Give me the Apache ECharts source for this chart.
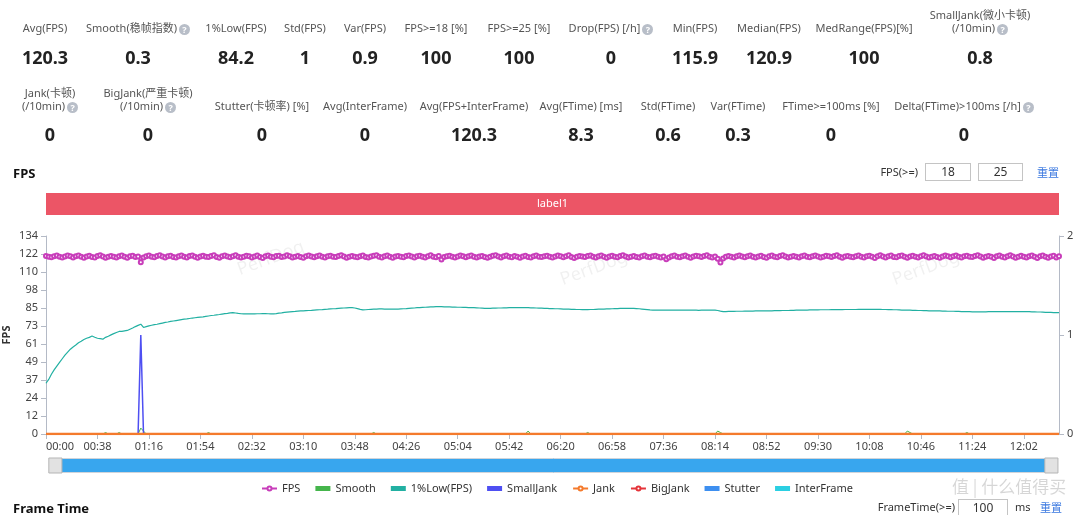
<!DOCTYPE html>
<html>
<head>
<meta charset="utf-8">
<title>FPS</title>
<script src="https://cdn.jsdelivr.net/npm/echarts@6/dist/echarts.min.js"></script>
<style>
  html, body { margin: 0; padding: 0; background: #fff; }
  body { width: 1080px; height: 518px; position: relative; overflow: hidden;
         font-family: "Noto Sans", "Noto Sans CJK SC", sans-serif; color: #333; }
  #chart { position: absolute; left: 0; top: 0; width: 1080px; height: 518px; }
  .abs { position: absolute; white-space: nowrap; }
  .stat-label { font-size: 11px; line-height: 13px; color: #555; text-align: center; width: 160px; }
  .stat-value { font-size: 18px; line-height: 22px; font-weight: bold; color: #222; text-align: center; width: 160px; }
  .help { display: inline-block; width: 11px; height: 11px; border-radius: 50%; background: #b8bec8;
          color: #fff; font-size: 9px; line-height: 11px; text-align: center; font-weight: bold;
          vertical-align: -1px; margin-left: 2px; }
  .title { font-size: 13px; font-weight: bold; color: #111; }
  .small { font-size: 11px; color: #333; }
  .box { border: 1px solid #c4c4c4; font-size: 12px; line-height: 15px; text-align: center; color: #333; }
  .link { font-size: 11px; color: #3a78e0; }
</style>
</head>
<body>
<div id="chart"></div>
<script>
// ---- summary numbers ----
var statsRow1 = [
  { label: ['Avg(FPS)'], value: '120.3', x: 45 },
  { label: ['Smooth(稳帧指数)'], value: '0.3', x: 138, help: true },
  { label: ['1%Low(FPS)'], value: '84.2', x: 236 },
  { label: ['Std(FPS)'], value: '1', x: 305 },
  { label: ['Var(FPS)'], value: '0.9', x: 365 },
  { label: ['FPS>=18 [%]'], value: '100', x: 436 },
  { label: ['FPS>=25 [%]'], value: '100', x: 519 },
  { label: ['Drop(FPS) [/h]'], value: '0', x: 611, help: true },
  { label: ['Min(FPS)'], value: '115.9', x: 695 },
  { label: ['Median(FPS)'], value: '120.9', x: 769 },
  { label: ['MedRange(FPS)[%]'], value: '100', x: 864 },
  { label: ['SmallJank(微小卡顿)', '(/10min)'], value: '0.8', x: 980, help: true }
];
var statsRow2 = [
  { label: ['Jank(卡顿)', '(/10min)'], value: '0', x: 50, help: true },
  { label: ['BigJank(严重卡顿)', '(/10min)'], value: '0', x: 148, help: true },
  { label: ['Stutter(卡顿率) [%]'], value: '0', x: 262 },
  { label: ['Avg(InterFrame)'], value: '0', x: 365 },
  { label: ['Avg(FPS+InterFrame)'], value: '120.3', x: 474 },
  { label: ['Avg(FTime) [ms]'], value: '8.3', x: 581 },
  { label: ['Std(FTime)'], value: '0.6', x: 668 },
  { label: ['Var(FTime)'], value: '0.3', x: 738 },
  { label: ['FTime>=100ms [%]'], value: '0', x: 831 },
  { label: ['Delta(FTime)>100ms [/h]'], value: '0', x: 964, help: true }
];

// ---- chart data (one sample every 2 s) ----
var stepSeconds = 2;
var fpsValues = [
  120.6,120.1,119.8,120.4,120.9,120.2,119.6,120.3,121.0,120.4,119.7,120.5,120.9,120.2,119.5,120.3,120.8,120.0,119.6,120.6,121.1,120.3,119.4,120.1,120.7,
  120.2,119.7,120.5,121.0,120.1,119.5,120.4,120.8,119.9,120.3,116.4,119.6,120.5,120.9,120.1,119.8,120.6,121.2,120.3,119.7,120.4,120.8,120.0,119.6,120.5,
  121.0,120.2,119.7,120.6,120.9,120.1,119.4,120.3,120.8,120.2,119.9,120.7,121.1,120.0,119.5,120.4,120.9,120.3,119.8,120.5,121.2,120.1,119.6,120.2,120.8,
  120.4,119.7,120.3,120.9,120.0,119.3,120.5,121.0,120.2,119.8,120.6,120.8,119.9,120.3,121.1,120.4,119.6,120.2,120.7,120.0,119.5,120.4,120.9,120.3,119.8,
  120.5,121.0,120.1,119.7,120.4,120.8,120.2,119.9,120.6,121.2,120.3,119.5,120.1,120.7,120.2,119.8,120.5,120.9,120.0,119.6,120.3,120.8,121.1,120.2,119.7,
  120.4,120.9,120.1,119.5,120.3,120.7,120.2,119.8,120.6,121.0,120.3,119.7,120.4,120.8,120.1,119.6,120.5,121.1,120.2,119.8,120.6,118.2,119.9,120.4,120.8,
  120.1,119.7,120.3,120.9,120.4,119.8,120.5,121.0,120.2,119.6,120.3,120.7,120.0,119.4,120.2,120.8,121.1,120.3,119.7,120.4,120.9,120.1,119.8,120.6,120.2,
  119.5,120.3,120.8,120.0,119.7,120.5,121.0,120.2,119.9,120.4,120.8,120.1,119.6,120.3,120.9,120.4,119.8,120.5,121.2,120.0,119.3,120.2,120.7,120.3,119.9,
  120.6,121.0,120.2,119.7,120.4,120.9,120.1,119.5,120.3,120.8,120.2,119.8,120.6,121.1,120.3,119.6,120.2,120.7,120.0,119.7,120.5,120.9,120.2,119.8,120.4,
  120.8,120.1,119.6,120.3,118.4,119.7,120.5,121.0,120.2,119.8,120.4,120.9,120.1,119.5,120.3,120.8,120.4,119.9,120.6,121.1,120.2,119.7,120.3,118.8,116.3,
  118.9,120.2,120.7,120.1,119.6,120.4,120.9,120.3,119.8,120.5,121.0,120.2,119.7,120.3,120.8,120.0,119.5,120.4,120.9,120.2,119.8,120.6,121.1,120.3,119.6,
  120.2,120.7,120.1,119.7,120.5,120.9,120.2,119.8,120.4,121.0,120.3,119.6,120.2,120.8,120.4,119.9,120.6,121.2,120.1,119.5,120.3,120.7,120.2,119.8,120.5,
  120.9,120.1,119.6,120.4,120.8,120.2,119.3,120.5,121.1,120.3,119.7,120.4,120.9,120.0,119.8,120.6,121.0,120.2,119.5,120.3,120.8,120.1,119.7,120.5,121.2,
  120.3,119.6,120.2,120.7,120.0,119.4,120.3,120.9,120.4,119.8,120.5,121.0,120.1,119.6,120.4,120.8,120.2,119.9,120.6,121.1,120.3,119.5,120.2,120.7,120.1,
  119.3,120.4,120.9,120.2,119.7,120.5,121.1,120.3,119.4,120.2,120.8,120.1,119.6,120.4,121.0,120.2,119.3,120.5,120.9,120.1,119.5,120.3,120.8,119.6,120.4
];
var lowValues = [
  34.4,37,40.5,43.5,46,48.5,51,53.5,55.5,57.5,59,60.3,61.8,62.8,64,64.9,65.5,66.4,65.6,64.9,
  64.6,64.3,65.5,66.3,67.2,68,68.8,69.5,69.6,69.9,70.2,71,71.8,72.8,73.6,74.4,72.2,72.8,73.3,73.7,
  74.1,74.4,74.8,75.2,75.6,75.9,76.3,76.6,76.9,77.2,77.5,77.8,78.0,78.3,78.6,78.8,79.0,79.2,79.4,79.7,
  80.0,80.3,80.5,80.8,81.0,81.3,81.6,81.8,82.1,82.3,82.0,81.7,81.5,81.4,81.4,81.4,
  81.4,81.4,81.5,81.5,81.6,81.6,81.5,81.4,81.4,81.6,81.9,82.1,82.4,82.6,82.8,83.0,83.1,83.3,83.4,83.5,83.6,83.7,83.8,84.0,84.1,
  84.2,84.3,84.5,84.6,84.8,84.9,85.0,85.2,85.3,85.4,85.5,85.6,
  85.6,85.4,85.0,84.5,84.1,84.2,84.4,84.5,84.6,84.7,84.8,
  84.8,84.7,84.7,84.6,84.6,84.7,84.7,84.8,
  84.9,85.0,85.2,85.3,85.4,85.6,85.7,85.8,85.9,86.0,86.1,86.2,86.3,
  86.3,86.3,86.2,86.2,86.1,86.0,86.0,85.9,85.9,85.8,85.8,85.7,85.7,85.6,85.5,85.4,85.3,85.2,85.2,
  85.2,85.3,85.3,85.4,85.4,85.5,85.5,85.6,85.6,85.7,85.7,85.7,85.7,
  85.6,85.6,85.5,85.5,85.4,85.3,85.3,85.2,85.1,85.0,85.0,84.9,84.9,84.8,84.7,84.6,84.6,84.5,84.5,84.4,84.4,84.3,84.3,
  84.3,84.4,84.4,84.5,84.6,84.6,84.7,84.8,84.8,84.9,85.0,85.0,85.1,85.1,85.2,85.2,85.2,
  85.1,85.0,84.9,84.7,84.5,84.3,84.1,84.0,83.9,83.9,
  83.9,83.9,83.9,84.0,84.0,84.0,84.0,83.9,83.9,83.9,83.9,83.9,83.9,83.9,83.8,83.9,83.9,83.9,83.9,83.9,83.9,
  83.7,83.3,83.0,
  83.0,83.1,83.1,83.1,83.2,83.2,83.2,83.3,83.3,83.3,83.3,83.4,83.4,83.4,83.5,83.5,83.5,
  83.5,83.6,83.6,83.6,83.7,83.7,83.7,83.8,83.8,83.9,83.9,83.9,84.0,84.0,84.1,84.1,
  84.1,84.1,84.2,84.2,84.2,84.2,84.3,84.3,84.3,84.3,84.3,84.4,84.4,84.4,84.4,84.4,84.5,84.5,84.5,84.5,84.5,84.5,84.5,84.5,84.5,
  84.4,84.4,84.3,84.3,84.2,84.2,84.1,84.0,84.0,83.9,83.9,83.8,83.8,83.7,83.7,83.6,
  83.6,83.5,83.5,83.4,83.4,83.4,83.3,83.3,83.2,83.2,83.2,83.1,83.1,83.0,83.0,82.9,82.9,82.8,82.8,
  82.8,82.8,82.8,82.8,82.9,82.9,82.9,82.9,82.9,83.0,83.0,83.0,83.0,83.0,83.0,83.0,83.0,83.0,
  82.9,82.9,82.8,82.8,82.7,82.7,82.6,82.5,82.5,82.4,82.3,82.3,82.2
];
// sparse series: [sample index, value], everything else is 0
var smoothEvents = [[22, 1], [27, 1], [35, 4], [36, 2], [60, 1], [121, 1], [178, 2], [200, 1], [248, 2], [249, 1], [318, 2], [319, 1], [340, 1]];
var smallJankEvents = [[35, 1]];
var jankEvents = [];
var bigJankEvents = [];
var stutterEvents = [];
var interFrameEvents = [];
var labelSegments = [{ name: 'label1', start: 0, end: 374 }];

var leftMax = 134.2;          // 1.1 x max fps
var leftSplits = 11;
var rightMax = 2;

// ---- page text ----
function addDiv(cls, text, left, top, extra) {
  var d = document.createElement('div');
  d.className = 'abs ' + cls;
  d.innerHTML = text;
  if (left !== null) d.style.left = left + 'px';
  d.style.top = top + 'px';
  if (extra) for (var k in extra) d.style[k] = extra[k];
  document.body.appendChild(d);
  return d;
}
function addStats(list, labelBottom, valueTop) {
  list.forEach(function (s) {
    var html = s.label.map(function (line, i) {
      var last = i === s.label.length - 1;
      return line + (last && s.help ? '<span class="help">?</span>' : '');
    }).join('<br>');
    addDiv('stat-label', html, s.x - 80, labelBottom - 13 * s.label.length);
    addDiv('stat-value', s.value, s.x - 80, valueTop);
  });
}
addStats(statsRow1, 34, 46);
addStats(statsRow2, 112, 123);

addDiv('title', 'FPS', 13, 164);
addDiv('small', 'FPS(>=)', null, 164, { right: (1080 - 918) + 'px' });
addDiv('box', '18', 925, 163, { width: '44px', height: '16px' });
addDiv('box', '25', 978, 163, { width: '43px', height: '16px' });
addDiv('link', '重置', 1037, 164);

addDiv('title', 'Frame Time', 13, 499);
addDiv('small', 'FrameTime(>=)', null, 499, { right: (1080 - 955) + 'px' });
addDiv('box', '100', 958, 499, { width: '48px', height: '15px', borderBottom: 'none' });
addDiv('small', 'ms', 1015, 499);
addDiv('link', '重置', 1040, 499);

// ---- chart ----
var times = fpsValues.map(function (v, i) {
  var t = i * stepSeconds;
  var m = Math.floor(t / 60), s = t % 60;
  return (m < 10 ? '0' : '') + m + ':' + (s < 10 ? '0' : '') + s;
});
function fromEvents(events) {
  var arr = fpsValues.map(function () { return 0; });
  events.forEach(function (e) { arr[e[0]] = e[1]; });
  return arr;
}

var font = '"Noto Sans", "Noto Sans CJK SC", sans-serif';
var axisGray = '#b4bac6';
var labelEvery = 38 / stepSeconds - 1;

var chart = echarts.init(document.getElementById('chart'), null, { renderer: 'canvas' });
var option = {
  animation: false,
  textStyle: { fontFamily: font },
  color: ['#c83dba', '#45b54c', '#22b0a2', '#4e4ff2', '#f47a2c', '#e5343a', '#3d8ff0', '#2bcfe2'],
  graphic: [
    { type: 'text', left: 235, top: 238, rotation: 0.35, style: { text: 'PerfDog', fill: 'rgba(0,0,0,0.06)', font: '18px ' + font } },
    { type: 'text', left: 558, top: 248, rotation: 0.35, style: { text: 'PerfDog', fill: 'rgba(0,0,0,0.06)', font: '18px ' + font } },
    { type: 'text', left: 890, top: 248, rotation: 0.35, style: { text: 'PerfDog', fill: 'rgba(0,0,0,0.06)', font: '18px ' + font } },
    { type: 'text', left: 952, top: 478, style: { text: '值 | 什么值得买', fill: 'rgba(0,0,0,0.16)', font: '17px "Noto Sans CJK SC"' } }
  ],
  legend: {
    data: [
      { name: 'FPS' },
      { name: 'Smooth', icon: 'rect' },
      { name: '1%Low(FPS)', icon: 'rect' },
      { name: 'SmallJank', icon: 'rect' },
      { name: 'Jank' },
      { name: 'BigJank' },
      { name: 'Stutter', icon: 'rect' },
      { name: 'InterFrame', icon: 'rect' }
    ],
    left: 256,
    top: 478,
    itemWidth: 15,
    itemHeight: 5,
    itemGap: 15,
    textStyle: { fontSize: 11, color: '#333' }
  },
  grid: [
    { left: 46, right: 21, top: 236, bottom: 84, outerBoundsMode: 'none', containLabel: false },
    { left: 46, right: 21, top: 193, height: 22, outerBoundsMode: 'none', containLabel: false }
  ],
  xAxis: [
    {
      type: 'category', gridIndex: 0, data: times, boundaryGap: false,
      axisLine: { lineStyle: { color: axisGray } },
      axisTick: { interval: labelEvery, lineStyle: { color: axisGray } },
      axisLabel: { interval: labelEvery, fontSize: 11, color: '#444', margin: 7, alignMinLabel: 'left' }
    },
    { type: 'value', gridIndex: 1, min: 0, max: fpsValues.length - 1, show: false }
  ],
  yAxis: [
    {
      type: 'value', gridIndex: 0, min: 0, max: leftMax, interval: leftMax / leftSplits,
      name: 'FPS', nameLocation: 'middle', nameGap: 34, nameMoveOverlap: false,
      nameTextStyle: { fontSize: 11, fontWeight: 'bold', color: '#333' },
      axisLine: { show: true, lineStyle: { color: axisGray } },
      axisTick: { show: true, lineStyle: { color: axisGray } },
      axisLabel: { fontSize: 11, color: '#444', formatter: function (v) { return Math.round(v); } },
      splitLine: { show: false }
    },
    {
      type: 'value', gridIndex: 0, min: 0, max: rightMax, interval: 1, position: 'right',
      axisLine: { show: true, lineStyle: { color: axisGray } },
      axisTick: { show: true, lineStyle: { color: axisGray } },
      axisLabel: { fontSize: 11, color: '#444' },
      splitLine: { show: false }
    },
    { type: 'value', gridIndex: 1, min: 0, max: 1, show: false }
  ],
  dataZoom: [{
    type: 'slider', xAxisIndex: 0, start: 0, end: 100,
    left: 53, right: 29, bottom: 45, height: 15,
    showDetail: false, showDataShadow: false, brushSelect: false,
    moveHandleSize: 0,
    backgroundColor: '#e8ebf0', borderColor: '#d0d4da',
    fillerColor: '#38a6ee',
    handleIcon: 'path://M0,0H14V16H0Z',
    handleSize: '100%',
    handleStyle: { color: '#e2e2e2', borderColor: '#b5b5b5', borderWidth: 1 }
  }],
  series: [
    {
      name: 'FPS', type: 'line', data: fpsValues,
      symbol: 'emptyCircle', symbolSize: 4, showSymbol: true, showAllSymbol: true,
      lineStyle: { width: 2 }, itemStyle: { borderWidth: 1.4 }, z: 2
    },
    { name: 'Smooth', type: 'line', data: fromEvents(smoothEvents), symbol: 'none', lineStyle: { width: 1 }, z: 2 },
    { name: '1%Low(FPS)', type: 'line', data: lowValues, symbol: 'none', lineStyle: { width: 1.2 }, z: 2 },
    { name: 'SmallJank', type: 'line', yAxisIndex: 1, data: fromEvents(smallJankEvents), symbol: 'none', lineStyle: { width: 1.5 }, z: 3 },
    { name: 'Jank', type: 'line', yAxisIndex: 1, data: fromEvents(jankEvents), symbol: 'emptyCircle', showSymbol: false, lineStyle: { width: 2.5 }, z: 5 },
    { name: 'BigJank', type: 'line', yAxisIndex: 1, data: fromEvents(bigJankEvents), symbol: 'emptyCircle', showSymbol: false, lineStyle: { width: 1.5 }, z: 2 },
    { name: 'Stutter', type: 'line', yAxisIndex: 1, data: fromEvents(stutterEvents), symbol: 'none', lineStyle: { width: 1.5 }, z: 2 },
    { name: 'InterFrame', type: 'line', yAxisIndex: 1, data: fromEvents(interFrameEvents), symbol: 'none', lineStyle: { width: 1.5 }, z: 2 },
    {
      name: 'labels', type: 'custom', xAxisIndex: 1, yAxisIndex: 2,
      data: labelSegments.map(function (s) { return [s.start, s.end, s.name]; }),
      encode: { x: [0, 1] },
      renderItem: function (params, api) {
        var p0 = api.coord([api.value(0), 1]);
        var p1 = api.coord([api.value(1), 0]);
        var name = labelSegments[params.dataIndex].name;
        return {
          type: 'group',
          children: [
            { type: 'rect', shape: { x: p0[0], y: p0[1], width: p1[0] - p0[0], height: p1[1] - p0[1] },
              style: { fill: '#ec5566' } },
            { type: 'text', style: { text: name, x: (p0[0] + p1[0]) / 2, y: (p0[1] + p1[1]) / 2,
              fill: '#fff', align: 'center', verticalAlign: 'middle', font: '11px ' + font } }
          ]
        };
      }
    }
  ]
};
chart.setOption(option);
</script>
</body>
</html>
